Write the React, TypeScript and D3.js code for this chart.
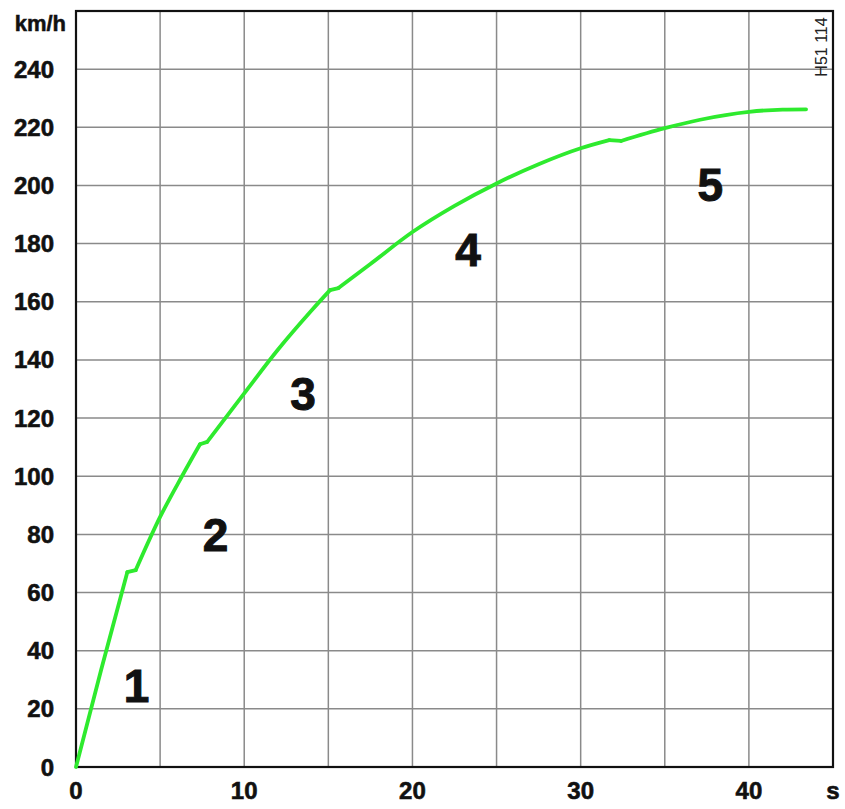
import React from "react";
import * as d3 from "d3";

const timeS = [0, 1.5, 3.05, 3.55, 5, 6.3, 7.37, 7.8, 10, 12, 14, 15.1, 15.6, 17.5, 20, 22.5, 25, 27.5, 30, 31.7, 32.4, 35, 37.1, 40, 42, 43.4];
const speedKmh = [0, 33.5, 67, 67.7, 86, 100, 111, 111.8, 128.5, 143.5, 157, 164, 164.7, 173, 184, 193, 200.7, 207.3, 212.8, 215.6, 215.3, 219.7, 222.6, 225.3, 226.1, 226.2];
const gearOf = [1, 1, 1, 2, 2, 2, 2, 3, 3, 3, 3, 3, 4, 4, 4, 4, 4, 4, 4, 4, 5, 5, 5, 5, 5, 5];

const xTicks = [0, 10, 20, 30, 40];
const xGrid = [0, 5, 10, 15, 20, 25, 30, 35, 40, 45];
const yTicks = [0, 20, 40, 60, 80, 100, 120, 140, 160, 180, 200, 220, 240];
const yGrid = [0, 20, 40, 60, 80, 100, 120, 140, 160, 180, 200, 220, 240, 260];

const gearLabels = ["1", "2", "3", "4", "5"];
const gearX = [3.6, 8.3, 13.5, 23.3, 37.7];
const gearY = [28, 80, 128.5, 178, 200.5];

const W = 845;
const H = 809;

export default function App() {
  const x = d3.scaleLinear().domain([0, 45]).range([76, 833]);
  const y = d3.scaleLinear().domain([0, 260]).range([767, 11]);
  const pts: [number, number][] = timeS.map((t, i) => [t, speedKmh[i]]);
  const smooth = d3
    .line<[number, number]>()
    .x((d) => x(d[0]))
    .y((d) => y(d[1]))
    .curve(d3.curveMonotoneX);
  const straight = d3
    .line<[number, number]>()
    .x((d) => x(d[0]))
    .y((d) => y(d[1]));
  const gears = [1, 2, 3, 4, 5];
  const gearPts = gears.map((g) => pts.filter((_, i) => gearOf[i] === g));
  const shiftPts = gears.slice(0, -1).map((g, k) => [gearPts[k][gearPts[k].length - 1], gearPts[k + 1][0]] as [number, number][]);
  const font = "'Liberation Sans', Arial, sans-serif";
  const green = "#2eea2e";

  return (
    <svg
      width={W}
      height={H}
      style={{ position: "absolute", left: 0, top: 0, background: "#fff" }}
    >
      <rect x={0} y={0} width={W} height={H} fill="#fff" />
      {xGrid.map((v) => (
        <line key={"xg" + v} x1={x(v)} x2={x(v)} y1={y(0)} y2={y(260)} stroke="#8a8a8a" strokeWidth={1.5} />
      ))}
      {yGrid.map((v) => (
        <line key={"yg" + v} x1={x(0)} x2={x(45)} y1={y(v)} y2={y(v)} stroke="#8a8a8a" strokeWidth={1.5} />
      ))}
      <rect x={x(0)} y={y(260)} width={x(45) - x(0)} height={y(0) - y(260)} fill="none" stroke="#111" strokeWidth={2.2} />
      {gearPts.map((gp, k) => (
        <path key={"gp" + k} d={smooth(gp) || ""} fill="none" stroke={green} strokeWidth={3.8} strokeLinejoin="round" strokeLinecap="round" />
      ))}
      {shiftPts.map((sp, k) => (
        <path key={"sp" + k} d={straight(sp) || ""} fill="none" stroke={green} strokeWidth={3.8} strokeLinejoin="round" strokeLinecap="round" />
      ))}
      {yTicks.map((v) => (
        <text key={"yt" + v} x={54} y={y(v) + 8.5} textAnchor="end" fontFamily={font} fontWeight="bold" fontSize={24} fill="#111" stroke="#111" strokeWidth={0.6}>
          {v}
        </text>
      ))}
      {xTicks.map((v) => (
        <text key={"xt" + v} x={x(v)} y={799} textAnchor="middle" fontFamily={font} fontWeight="bold" fontSize={24} fill="#111" stroke="#111" strokeWidth={0.6}>
          {v}
        </text>
      ))}
      <text x={66} y={31} textAnchor="end" fontFamily={font} fontWeight="bold" fontSize={22} fill="#111" stroke="#111" strokeWidth={0.5}>km/h</text>
      <text x={833} y={799} textAnchor="middle" fontFamily={font} fontWeight="bold" fontSize={24} fill="#111" stroke="#111" strokeWidth={0.6}>s</text>
      <text
        transform={`translate(827,47) rotate(-90)`}
        textAnchor="middle"
        fontFamily={font}
        fontSize={16}
        fill="#222"
      >
        H51 114
      </text>
      {gearLabels.map((g, i) => (
        <text key={"g" + g} x={x(gearX[i])} y={y(gearY[i]) + 16.5} textAnchor="middle" fontFamily={font} fontWeight="bold" fontSize={46} fill="#111" stroke="#111" strokeWidth={1}>
          {g}
        </text>
      ))}
    </svg>
  );
}
